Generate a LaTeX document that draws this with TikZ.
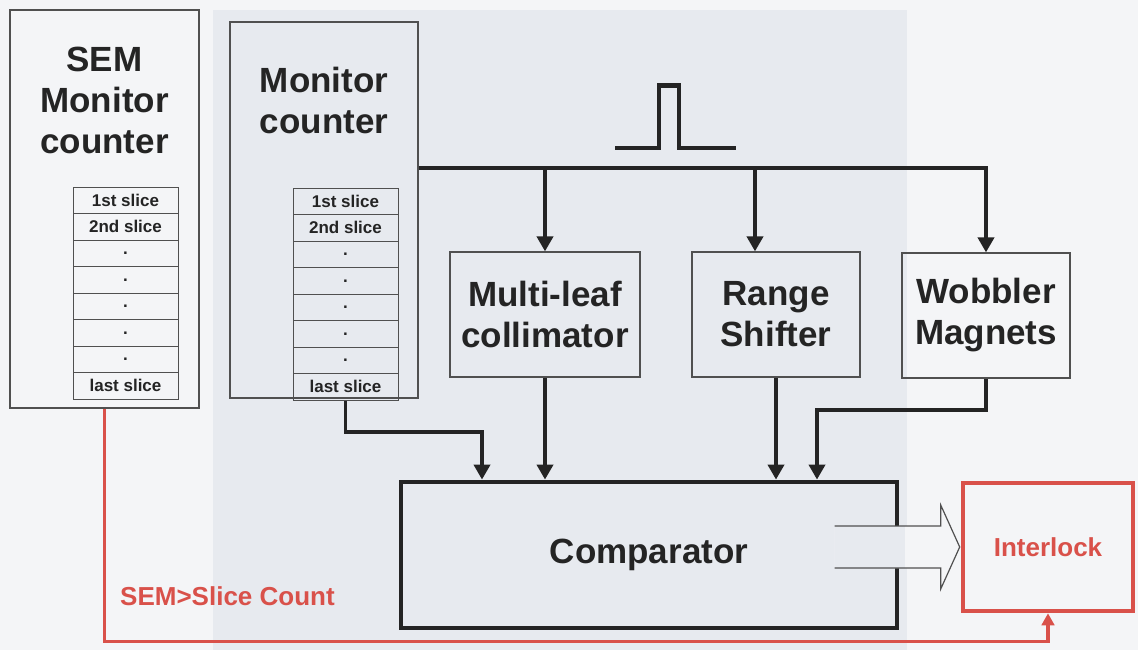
\documentclass[tikz,border=0pt]{standalone}
\usepackage{fontspec}
\setmainfont{Liberation Sans}
\usetikzlibrary{arrows.meta,calc}

\definecolor{paper}{HTML}{F4F5F7}
\definecolor{band}{HTML}{E7EAEF}
\definecolor{ink}{HTML}{242424}
\definecolor{frame}{HTML}{505050}
\definecolor{alarm}{HTML}{D9514A}

\begin{document}
\begin{tikzpicture}[x=1pt,y=-1pt,
  unit/.style={draw=frame,line width=1.2pt,inner sep=0pt},
  blockbox/.style={unit,minimum height=125pt,align=center,text=ink,
    font=\bfseries\fontsize{35}{41}\selectfont},
  title/.style={align=center,text=ink,inner sep=0pt,anchor=north,
    font=\bfseries\fontsize{35}{41}\selectfont},
  cell/.style={draw=frame,line width=1pt,minimum width=105pt,minimum height=26.5pt,
    inner sep=0pt,text=ink,font=\bfseries\fontsize{17}{20}\selectfont},
  wire/.style={draw=ink,line width=3.8pt,line join=miter},
  feed/.style={wire,-{Triangle[length=15pt,width=16pt]}},
  alarmwire/.style={draw=alarm,line width=3.3pt,-{Triangle[length=12pt,width=12.5pt]}},
  hollow/.style={draw=frame,line width=1.2pt,line join=miter}
]
\useasboundingbox (0,0) rectangle (1138,650);
\fill[paper] (0,0) rectangle (1138,650);
\fill[band] (213,10) rectangle (907,650);

% counters with their slice registers
\node[unit,minimum width=189pt,minimum height=398pt] (sem) at (104.5,209) {};
\node[title] (semtitle) at (104.5,47) {SEM\\Monitor\\counter};
\node[unit,minimum width=188pt,minimum height=376pt] (mon) at (324,210) {};
\node[title] (montitle) at (324,67) {Monitor\\counter};

\foreach \i/\t in {1/1st slice,2/2nd slice,3/.,4/.,5/.,6/.,7/.,8/last slice}{
  \node[cell] (semrow\i) at (125.5,{187+26.5*(\i-0.5)}) {\t};
  \node[cell] (monrow\i) at (345.5,{188+26.5*(\i-0.5)}) {\t};
}

% beam devices
\node[blockbox,minimum width=190pt] (mlc) at (545,314.5) {Multi-leaf\\collimator};
\node[blockbox,minimum width=168pt] (rs) at (776,314.5) {Range\\Shifter};
\node[blockbox,minimum width=168pt] (wob) at (986,315.5) {Wobbler\\Magnets};

% comparator and interlock
\node[draw=ink,line width=4.8pt,minimum width=496pt,minimum height=146pt,inner sep=0pt,
  text=ink,font=\bfseries\fontsize{35}{41}\selectfont] (cmp) at (649,555) {Comparator};
\node[draw=alarm,line width=4.6pt,minimum width=170pt,minimum height=128pt,inner sep=0pt,
  text=alarm,font=\bfseries\fontsize{26}{30}\selectfont] (ilk) at (1048,547) {Interlock};

% timing pulse
\draw[wire,line width=4.2pt] (615,148) -- (659,148) -- (659,85.5) -- (679,85.5) -- (679,148) -- (736,148);

% distribution bus from the monitor counter
\coordinate (bus) at (986,168);
\coordinate (tapM) at (545,168);
\coordinate (tapR) at (755,168);
\draw[feed] (mon.east |- bus) -- (bus) -- (wob.north);
\draw[feed] (tapM) -- (mlc.north);
\draw[feed] (tapR) -- (tapR |- rs.north);

% inputs to the comparator
\coordinate (j1) at (482,432);
\coordinate (j2) at (817,410);
\draw[feed] (monrow8.south) |- (j1) -- (j1 |- cmp.north);
\draw[feed] (mlc.south) -- (mlc.south |- cmp.north);
\draw[feed] (rs.south) -- (rs.south |- cmp.north);
\draw[feed] (wob.south) |- (j2) -- (j2 |- cmp.north);

% hollow output arrow into the interlock
\begin{scope}[shift={(ilk.west)}]
  \path[fill=paper] (-126,-21) -- (-20,-21) -- (-20,-42) -- (-1,0) -- (-20,42) -- (-20,21) -- (-126,21) -- cycle;
  \begin{scope}
    \clip (-126,-21) -- (-20,-21) -- (-20,-42) -- (-1,0) -- (-20,42) -- (-20,21) -- (-126,21) -- cycle;
    \fill[band] (213-963,-100) rectangle (907-963,100);
  \end{scope}
  \draw[hollow] (-126,-21) -- (-20,-21) -- (-20,-42) -- (-1,0) -- (-20,42) -- (-20,21) -- (-126,21);
\end{scope}

% SEM alarm path
\draw[alarmwire] (sem.south) |- ($(ilk.south)+(0,28)$) -- (ilk.south);
\node[anchor=base west,inner sep=0pt,text=alarm,font=\bfseries\fontsize{26}{30}\selectfont]
  (semlabel) at (120,605) {SEM>Slice Count};
\end{tikzpicture}
\end{document}
